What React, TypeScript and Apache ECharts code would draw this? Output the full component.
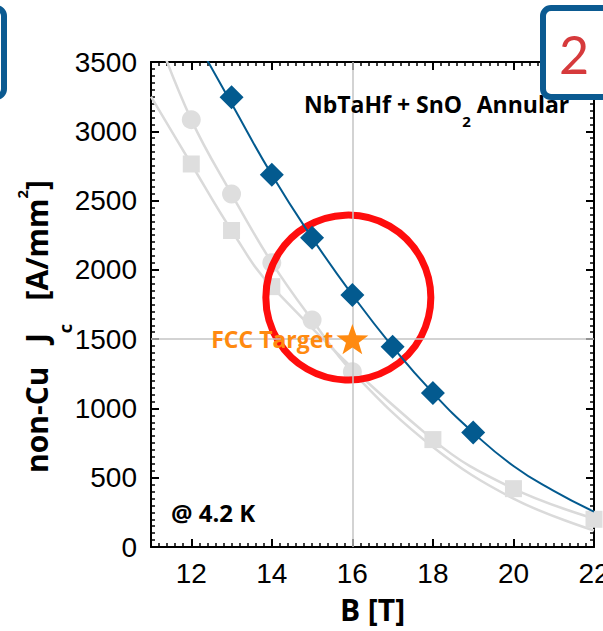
import React, { useEffect, useRef } from 'react';
import * as echarts from 'echarts';

// Blue diamonds: NbTaHf + SnO2 Annular
const B_DIAMOND = [13, 14, 15, 16, 17, 18, 19];
const JC_DIAMOND = [3245, 2686, 2231, 1819, 1445, 1112, 826];
// Blue fit curve
const B_FIT = [12, 13, 14, 15, 16, 17, 18, 19, 20, 21, 22];
const JC_FIT = [3718, 3200, 2686, 2231, 1819, 1445, 1112, 826, 585, 405, 255];
// Gray circles and their curve
const B_CIRCLE = [12, 13, 14, 15, 16];
const JC_CIRCLE = [3084, 2547, 2052, 1638, 1264];
const B_CIRCLE_LINE = [11, 12, 13, 14, 15, 16, 18, 20, 22];
const JC_CIRCLE_LINE = [3810, 3084, 2547, 2052, 1638, 1264, 722, 349, 119];
// Gray squares and their curve
const B_SQUARE = [12, 13, 14, 18, 20, 22];
const JC_SQUARE = [2764, 2284, 1879, 775, 421, 200];
const B_SQUARE_LINE = [11, 12, 13, 14, 18, 20, 22];
const JC_SQUARE_LINE = [3250, 2764, 2284, 1879, 775, 421, 205];
// FCC target and highlight ring
const TARGET_B = [16];
const TARGET_JC = [1500];
const RING_B = [15.9];
const RING_JC = [1800];
// Axes
const X_MIN = 11;
const X_MAX = 22;
const X_MAJOR = [12, 14, 16, 18, 20, 22];
const Y_MIN = 0;
const Y_MAX = 3500;
const Y_STEP = 500;

const BLUE = '#035a8f';
const GRAY = '#dedede';
const GRAY_LINE = '#dadada';
const ORANGE = '#ff8a10';
const RED = '#ff0d0d';
const BOX_BLUE = '#0b5a91';
const FONT = 'Open Sans';

const zip = (xs: number[], ys: number[]) => xs.map((x, i) => [x, ys[i]]);

const STAR =
  'path://M50,0 L61.76,33.82 L97.55,34.55 L69.02,56.18 L79.39,90.45 L50,70 L20.61,90.45 L30.98,56.18 L2.45,34.55 L38.24,33.82 Z';

const tickFont = { fontFamily: 'Liberation Sans', fontSize: 28, color: '#000' };

function minorXAxis(position: 'bottom' | 'top', labels: boolean) {
  return {
    type: 'value',
    position,
    min: X_MIN,
    max: X_MAX,
    interval: 0.2,
    axisLine: { show: true, onZero: false, lineStyle: { color: '#000', width: 2 } },
    axisTick: { show: true, inside: true, length: 4, lineStyle: { color: '#000', width: 1.5 } },
    axisLabel: labels
      ? {
          show: true,
          margin: 12,
          hideOverlap: false,
          ...tickFont,
          formatter: (v: number) => {
            const r = Math.round(v);
            return Math.abs(v - r) < 1e-6 && X_MAJOR.includes(r) ? String(r) : '';
          },
        }
      : { show: false },
    splitLine: { show: false },
  };
}

function majorXAxis(position: 'bottom' | 'top') {
  return {
    type: 'value',
    position,
    min: X_MIN,
    max: X_MAX,
    axisLine: { show: false, onZero: false },
    axisTick: {
      show: true,
      inside: true,
      length: 8,
      customValues: X_MAJOR,
      lineStyle: { color: '#000', width: 2 },
    },
    axisLabel: { show: false },
    splitLine: { show: false },
  };
}

function yAxis(position: 'left' | 'right', labels: boolean) {
  return {
    type: 'value',
    position,
    min: Y_MIN,
    max: Y_MAX,
    interval: Y_STEP,
    axisLine: { show: true, onZero: false, lineStyle: { color: '#000', width: 2 } },
    axisTick: { show: true, inside: true, length: 8, lineStyle: { color: '#000', width: 2 } },
    minorTick: { show: true, splitNumber: 10, length: 4, lineStyle: { color: '#000', width: 1.5 } },
    axisLabel: labels
      ? { show: true, margin: 14, ...tickFont, formatter: (v: number) => String(v) }
      : { show: false },
    splitLine: { show: false },
    minorSplitLine: { show: false },
  };
}

export default function App() {
  const ref = useRef<HTMLDivElement>(null);

  useEffect(() => {
    document.body.style.margin = '0';
    if (!ref.current) return;
    const chart = echarts.init(ref.current, null, { renderer: 'svg' });

    const xAxes: any[] = [minorXAxis('bottom', true), majorXAxis('bottom'), minorXAxis('top', false), majorXAxis('top')];
    xAxes[0].name = 'B [T]';
    xAxes[0].nameLocation = 'middle';
    xAxes[0].nameGap = 47;
    xAxes[0].nameTextStyle = { fontFamily: FONT, fontWeight: 'bold', fontSize: 30, color: '#000' };

    const yAxes: any[] = [yAxis('left', true), yAxis('right', false)];
    yAxes[0].name = '{m|non-Cu   J}{s|c}{m|   [A/mm}{p|2}{m|]}';
    yAxes[0].nameLocation = 'middle';
    yAxes[0].nameMoveOverlap = false;
    yAxes[0].nameGap = 77;
    yAxes[0].nameTextStyle = {
      fontFamily: FONT,
      fontWeight: 'bold',
      fontSize: 30,
      color: '#000',
      padding: [0, 44, 0, 0],
      rich: {
        m: { fontFamily: FONT, fontWeight: 'bold', fontSize: 30, color: '#000', lineHeight: 75, verticalAlign: 'middle' },
        s: { fontFamily: FONT, fontWeight: 'bold', fontSize: 18, color: '#000', verticalAlign: 'bottom' },
        p: { fontFamily: FONT, fontWeight: 'bold', fontSize: 15, color: '#000', verticalAlign: 'top', padding: [15, 0, 0, 0] },
      },
    };

    const option: any = {
      animation: false,
      backgroundColor: '#fff',
      grid: { left: 151, top: 62, right: 9, bottom: 84, containLabel: false, outerBoundsMode: 'none' },
      xAxis: xAxes,
      yAxis: yAxes,
      series: [
        {
          name: 'squares-line',
          type: 'line',
          xAxisIndex: 0,
          yAxisIndex: 0,
          data: zip(B_SQUARE_LINE, JC_SQUARE_LINE),
          showSymbol: false,
          smooth: 0.4,
          lineStyle: { color: GRAY_LINE, width: 2.5 },
          z: 2,
          silent: true,
          markLine: {
            silent: true,
            symbol: ['none', 'none'],
            label: { show: false },
            lineStyle: { color: '#c4c4c4', width: 1.5, type: 'solid' },
            data: [{ xAxis: TARGET_B[0] }, { yAxis: TARGET_JC[0] }],
          },
        },
        {
          name: 'circles-line',
          type: 'line',
          data: zip(B_CIRCLE_LINE, JC_CIRCLE_LINE),
          showSymbol: false,
          smooth: 0.4,
          lineStyle: { color: GRAY_LINE, width: 2.5 },
          z: 2,
          silent: true,
        },
        {
          name: 'squares',
          type: 'scatter',
          data: zip(B_SQUARE, JC_SQUARE),
          symbol: 'rect',
          symbolSize: 17,
          itemStyle: { color: GRAY, opacity: 1 },
          z: 3,
        },
        {
          name: 'circles',
          type: 'scatter',
          data: zip(B_CIRCLE, JC_CIRCLE),
          symbol: 'circle',
          symbolSize: 19,
          itemStyle: { color: GRAY, opacity: 1 },
          z: 3,
        },
        {
          name: 'ring',
          type: 'scatter',
          data: zip(RING_B, RING_JC),
          symbol: 'circle',
          symbolSize: 165,
          itemStyle: { color: 'rgba(0,0,0,0)', borderColor: RED, borderWidth: 7, opacity: 1 },
          z: 4,
          silent: true,
        },
        {
          name: 'fit',
          type: 'line',
          data: zip(B_FIT, JC_FIT),
          showSymbol: false,
          smooth: 0.5,
          lineStyle: { color: BLUE, width: 2 },
          z: 5,
          silent: true,
        },
        {
          name: 'NbTaHf + SnO2 Annular',
          type: 'scatter',
          data: zip(B_DIAMOND, JC_DIAMOND),
          symbol: 'diamond',
          symbolSize: 24,
          itemStyle: { color: BLUE, opacity: 1 },
          z: 6,
        },
        {
          name: 'FCC Target',
          type: 'scatter',
          data: zip(TARGET_B, TARGET_JC),
          symbol: STAR,
          symbolKeepAspect: true,
          symbolSize: 32,
          itemStyle: { color: ORANGE, opacity: 1 },
          label: {
            show: true,
            position: 'left',
            distance: 3,
            formatter: 'FCC Target',
            fontFamily: FONT,
            fontWeight: 'bold',
            fontSize: 23,
            color: ORANGE,
          },
          z: 7,
        },
      ],
      graphic: [
        {
          type: 'text',
          left: 304,
          top: 92,
          z: 50,
          style: {
            text: '{m|NbTaHf + SnO}{s|2}{m| Annular}',
            rich: {
              m: { fontFamily: FONT, fontWeight: 'bold', fontSize: 23, fill: '#000', lineHeight: 50, verticalAlign: 'middle' },
              s: { fontFamily: FONT, fontWeight: 'bold', fontSize: 15, fill: '#000', verticalAlign: 'bottom' },
            },
          },
        },
        {
          type: 'text',
          left: 171,
          top: 500,
          z: 50,
          style: { text: '@ 4.2 K', font: `bold 24px "${FONT}"`, fill: '#000' },
        },
        {
          type: 'rect',
          z: 100,
          shape: { x: -60, y: 8, width: 64, height: 89, r: 8 },
          style: { fill: '#fff', stroke: BOX_BLUE, lineWidth: 6 },
        },
        {
          type: 'rect',
          z: 100,
          shape: { x: 543, y: 8, width: 100, height: 89, r: 8 },
          style: { fill: '#fff', stroke: BOX_BLUE, lineWidth: 6 },
        },
        {
          type: 'text',
          z: 101,
          x: 574,
          y: 54,
          style: {
            text: '2',
            font: '52px Lato',
            fill: '#d63a3c',
            align: 'center',
            verticalAlign: 'middle',
          },
        },
      ],
    };

    chart.setOption(option);
    return () => chart.dispose();
  }, []);

  return <div ref={ref} style={{ width: 603, height: 631 }} />;
}
